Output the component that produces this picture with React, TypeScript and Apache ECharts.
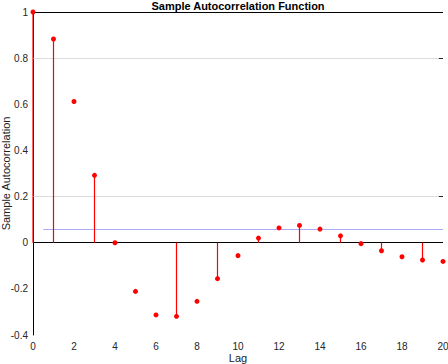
import React, { useEffect, useRef } from "react";
import * as echarts from "echarts";

const lags = [0, 1, 2, 3, 4, 5, 6, 7, 8, 9, 10, 11, 12, 13, 14, 15, 16, 17, 18, 19, 20];
const acf = [1, 0.883, 0.612, 0.292, 0.0, -0.211, -0.313, -0.319, -0.254, -0.156, -0.056, 0.02, 0.064, 0.075, 0.059, 0.03, -0.004, -0.035, -0.061, -0.075, -0.081];
const stemLags = [0, 1, 3, 7, 9, 11, 13, 15, 17, 19];
const confBound = 0.059;
const confStart = 0.5;
const gridLevels = [0.2, 0.8];
const xMin = 0, xMax = 20, xStep = 2;
const yMin = -0.4, yMax = 1, yStep = 0.2;

const FONT = "Liberation Sans";

export default function App() {
  const ref = useRef<HTMLDivElement>(null);
  useEffect(() => {
    if (!ref.current) return;
    const chart = echarts.init(ref.current, undefined, { renderer: "svg" });
    const lineStyleBase = { type: "solid" as const };
    const markData: any[] = [];
    gridLevels.forEach((g) => {
      markData.push([
        { coord: [xMin, g], lineStyle: { ...lineStyleBase, color: "#dcdcdc", width: 1 } },
        { coord: [xMax, g] },
      ]);
      markData.push([
        { coord: [xMax - 0.2, g], lineStyle: { ...lineStyleBase, color: "#222", width: 1 } },
        { coord: [xMax, g] },
      ]);
    });
    markData.push([
      { coord: [confStart, confBound], lineStyle: { ...lineStyleBase, color: "#aaaaf5", width: 1 } },
      { coord: [xMax, confBound] },
    ]);
    markData.push([
      { coord: [xMin, 0], lineStyle: { ...lineStyleBase, color: "#000", width: 1 } },
      { coord: [xMax, 0] },
    ]);
    markData.push([
      { coord: [xMin, yMax], lineStyle: { ...lineStyleBase, color: "#000", width: 1 } },
      { coord: [xMax, yMax] },
    ]);

    chart.setOption({
      animation: false,
      textStyle: { fontFamily: FONT },
      grid: { left: 33, right: 5, top: 12, bottom: 29, containLabel: false, outerBoundsMode: "none" },
      graphic: [
        {
          type: "text",
          x: 238,
          y: 0,
          style: {
            text: "Sample Autocorrelation Function",
            textAlign: "center",
            textVerticalAlign: "top",
            font: `bold 11px "${FONT}"`,
            fill: "#000",
          },
        },
      ],
      xAxis: {
        type: "value",
        min: xMin,
        max: xMax,
        interval: xStep,
        name: "Lag",
        nameLocation: "middle",
        nameGap: 17,
        nameMoveOverlap: false,
        nameTextStyle: { fontSize: 11, color: "#222", fontFamily: FONT },
        axisLine: { show: false },
        axisTick: { show: false },
        splitLine: { show: false },
        axisLabel: { fontSize: 10, color: "#262626", margin: 6, fontFamily: FONT },
      },
      yAxis: {
        type: "value",
        min: yMin,
        max: yMax,
        interval: yStep,
        name: "Sample Autocorrelation",
        nameLocation: "middle",
        nameGap: 22,
        nameMoveOverlap: false,
        nameTextStyle: { fontSize: 11, color: "#222", fontFamily: FONT },
        axisLine: { show: true, onZero: false, lineStyle: { color: "#000", width: 1 } },
        axisTick: { show: false },
        splitLine: { show: false },
        axisLabel: {
          fontSize: 10,
          color: "#262626",
          margin: 5,
          fontFamily: FONT,
          formatter: (v: number) => String(Math.round(v * 10) / 10),
        },
      },
      series: [
        {
          type: "line",
          data: [],
          silent: true,
          z: 1,
          markLine: {
            silent: true,
            z: 1,
            symbol: ["none", "none"],
            label: { show: false },
            emphasis: { disabled: true },
            data: markData,
          },
        },
        {
          type: "custom",
          z: 3,
          silent: true,
          data: stemLags.map((l) => [l, acf[lags.indexOf(l)]]),
          renderItem: (params: any, api: any) => {
            const p0 = api.coord([api.value(0), 0]);
            const p1 = api.coord([api.value(0), api.value(1)]);
            return {
              type: "line",
              shape: { x1: p0[0], y1: p0[1], x2: p1[0], y2: p1[1] },
              style: { stroke: "#ff0000", lineWidth: 1.2 },
            };
          },
        },
        {
          type: "scatter",
          z: 4,
          symbol: "circle",
          symbolSize: 5,
          itemStyle: { color: "#ff0000", opacity: 1 },
          data: lags.map((l, i) => [l, acf[i]]),
        },
      ],
    });
    return () => chart.dispose();
  }, []);
  return (
    <div
      ref={ref}
      style={{ position: "fixed", left: 0, top: 0, width: 448, height: 364, background: "#fff" }}
    />
  );
}
